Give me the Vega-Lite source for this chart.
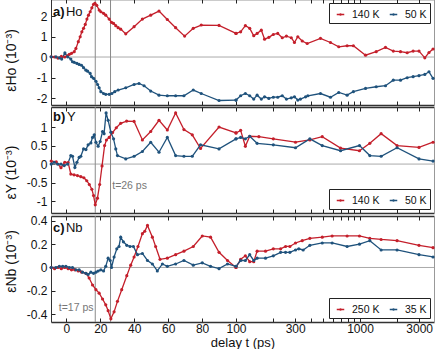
{
"$schema": "https://vega.github.io/schema/vega-lite/v6.json",
"padding": {"left": 3, "top": -2, "right": 4, "bottom": 4},
"background": "white",
"config": {
  "font": "Liberation Sans",
  "view": {"stroke": null},
  "axis": {"labelFont": "Liberation Sans", "labelFontSize": 12, "labelColor": "#111", "titleFont": "Liberation Sans", "titleFontSize": 14, "titleFontWeight": "normal", "titleColor": "#111", "tickColor": "#222", "tickWidth": 1, "tickSize": -4, "domainColor": "#333", "domainWidth": 1, "grid": false, "labelFlush": false, "labelOverlap": false},
  "axisX": {"labelPadding": 5, "domainWidth": 1.5},
  "axisY": {"labelPadding": 8},
  "legend": {"direction": "horizontal", "title": null, "symbolType": "M-0.5,0H0.5M-0.08,0A0.08,0.08,0,1,0,0.08,0A0.08,0.08,0,1,0,-0.08,0", "symbolSize": 225, "symbolStrokeWidth": 1.3, "labelFontSize": 10.5, "labelFont": "Liberation Sans", "labelColor": "#111", "strokeColor": "#222", "fillColor": "white", "padding": 3, "offset": 4, "columnPadding": 5, "labelOffset": 3, "cornerRadius": 0}
},
"datasets": {"pts": [
{"p":"a","T":"140 K","t":-9,"v":0.01},{"p":"a","T":"140 K","t":-7,"v":0.0},{"p":"a","T":"140 K","t":-5,"v":-0.05},{"p":"a","T":"140 K","t":-3,"v":0.03},{"p":"a","T":"140 K","t":-1,"v":0.0},{"p":"a","T":"140 K","t":0.5,"v":0.06},{"p":"a","T":"140 K","t":1.7,"v":0.13},{"p":"a","T":"140 K","t":3,"v":0.18},{"p":"a","T":"140 K","t":4.6,"v":0.26},{"p":"a","T":"140 K","t":5.6,"v":0.42},{"p":"a","T":"140 K","t":7,"v":0.75},{"p":"a","T":"140 K","t":8.1,"v":0.99},{"p":"a","T":"140 K","t":9.1,"v":1.23},{"p":"a","T":"140 K","t":10.1,"v":1.4},{"p":"a","T":"140 K","t":11.1,"v":1.59},{"p":"a","T":"140 K","t":12.1,"v":1.85},{"p":"a","T":"140 K","t":13,"v":2.04},{"p":"a","T":"140 K","t":14,"v":2.21},{"p":"a","T":"140 K","t":15,"v":2.4},{"p":"a","T":"140 K","t":16,"v":2.57},{"p":"a","T":"140 K","t":16.8,"v":2.62},{"p":"a","T":"140 K","t":17.9,"v":2.52},{"p":"a","T":"140 K","t":19.3,"v":2.29},{"p":"a","T":"140 K","t":20.3,"v":2.21},{"p":"a","T":"140 K","t":21.9,"v":2.13},{"p":"a","T":"140 K","t":23.2,"v":2.04},{"p":"a","T":"140 K","t":25.2,"v":1.85},{"p":"a","T":"140 K","t":26.6,"v":1.69},{"p":"a","T":"140 K","t":27.8,"v":1.64},{"p":"a","T":"140 K","t":29.1,"v":1.53},{"p":"a","T":"140 K","t":30.5,"v":1.43},{"p":"a","T":"140 K","t":32,"v":1.36},{"p":"a","T":"140 K","t":35,"v":1.13},{"p":"a","T":"140 K","t":39.9,"v":1.48},{"p":"a","T":"140 K","t":44.8,"v":1.85},{"p":"a","T":"140 K","t":49.7,"v":2.04},{"p":"a","T":"140 K","t":54.6,"v":2.24},{"p":"a","T":"140 K","t":59.5,"v":1.83},{"p":"a","T":"140 K","t":64.4,"v":1.43},{"p":"a","T":"140 K","t":69.7,"v":1.02},{"p":"a","T":"140 K","t":74.8,"v":1.4},{"p":"a","T":"140 K","t":79.5,"v":1.56},{"p":"a","T":"140 K","t":90,"v":1.54},{"p":"a","T":"140 K","t":100,"v":1.15},{"p":"a","T":"140 K","t":109,"v":1.23},{"p":"a","T":"140 K","t":119,"v":1.53},{"p":"a","T":"140 K","t":129,"v":1.4},{"p":"a","T":"140 K","t":139,"v":1.04},{"p":"a","T":"140 K","t":148,"v":1.15},{"p":"a","T":"140 K","t":160,"v":1.31},{"p":"a","T":"140 K","t":170,"v":0.87},{"p":"a","T":"140 K","t":184,"v":0.96},{"p":"a","T":"140 K","t":200,"v":1.1},{"p":"a","T":"140 K","t":217,"v":1.15},{"p":"a","T":"140 K","t":236,"v":0.94},{"p":"a","T":"140 K","t":255,"v":1.02},{"p":"a","T":"140 K","t":279,"v":0.94},{"p":"a","T":"140 K","t":296,"v":0.71},{"p":"a","T":"140 K","t":315,"v":0.99},{"p":"a","T":"140 K","t":342,"v":0.78},{"p":"a","T":"140 K","t":375,"v":0.66},{"p":"a","T":"140 K","t":480,"v":0.91},{"p":"a","T":"140 K","t":578,"v":0.71},{"p":"a","T":"140 K","t":674,"v":0.5},{"p":"a","T":"140 K","t":787,"v":0.55},{"p":"a","T":"140 K","t":884,"v":0.55},{"p":"a","T":"140 K","t":1108,"v":0.09},{"p":"a","T":"140 K","t":1350,"v":0.26},{"p":"a","T":"140 K","t":1605,"v":0.47},{"p":"a","T":"140 K","t":1855,"v":0.29},{"p":"a","T":"140 K","t":2121,"v":0.26},{"p":"a","T":"140 K","t":2400,"v":0.21},{"p":"a","T":"140 K","t":2680,"v":0.29},{"p":"a","T":"140 K","t":2990,"v":0.29},{"p":"a","T":"140 K","t":3330,"v":-0.04},{"p":"a","T":"140 K","t":3600,"v":0.22},{"p":"a","T":"140 K","t":3880,"v":0.39},
{"p":"a","T":"50 K","t":-9,"v":0.01},{"p":"a","T":"50 K","t":-6.2,"v":0.01},{"p":"a","T":"50 K","t":-4.2,"v":-0.04},{"p":"a","T":"50 K","t":-2.8,"v":-0.1},{"p":"a","T":"50 K","t":-0.9,"v":0.2},{"p":"a","T":"50 K","t":0.7,"v":0.01},{"p":"a","T":"50 K","t":2.6,"v":-0.1},{"p":"a","T":"50 K","t":3.6,"v":-0.23},{"p":"a","T":"50 K","t":4.6,"v":-0.26},{"p":"a","T":"50 K","t":6.2,"v":-0.31},{"p":"a","T":"50 K","t":7.5,"v":-0.36},{"p":"a","T":"50 K","t":8.9,"v":-0.4},{"p":"a","T":"50 K","t":10.1,"v":-0.52},{"p":"a","T":"50 K","t":11.5,"v":-0.64},{"p":"a","T":"50 K","t":12.5,"v":-0.69},{"p":"a","T":"50 K","t":14,"v":-0.8},{"p":"a","T":"50 K","t":14.8,"v":-0.96},{"p":"a","T":"50 K","t":16,"v":-1.04},{"p":"a","T":"50 K","t":17.4,"v":-1.18},{"p":"a","T":"50 K","t":18.4,"v":-1.34},{"p":"a","T":"50 K","t":19.3,"v":-1.5},{"p":"a","T":"50 K","t":20.3,"v":-1.69},{"p":"a","T":"50 K","t":21.9,"v":-1.78},{"p":"a","T":"50 K","t":23.2,"v":-1.82},{"p":"a","T":"50 K","t":25.2,"v":-1.82},{"p":"a","T":"50 K","t":26.8,"v":-1.78},{"p":"a","T":"50 K","t":28.5,"v":-1.69},{"p":"a","T":"50 K","t":30.5,"v":-1.61},{"p":"a","T":"50 K","t":35,"v":-1.5},{"p":"a","T":"50 K","t":39.9,"v":-1.34},{"p":"a","T":"50 K","t":42.8,"v":-1.29},{"p":"a","T":"50 K","t":45.8,"v":-1.4},{"p":"a","T":"50 K","t":49.7,"v":-1.66},{"p":"a","T":"50 K","t":54.6,"v":-1.86},{"p":"a","T":"50 K","t":59.5,"v":-1.89},{"p":"a","T":"50 K","t":64.4,"v":-1.89},{"p":"a","T":"50 K","t":69.3,"v":-1.89},{"p":"a","T":"50 K","t":74.8,"v":-1.61},{"p":"a","T":"50 K","t":79.5,"v":-1.78},{"p":"a","T":"50 K","t":90,"v":-2.12},{"p":"a","T":"50 K","t":100,"v":-2.1},{"p":"a","T":"50 K","t":109,"v":-1.89},{"p":"a","T":"50 K","t":119,"v":-1.78},{"p":"a","T":"50 K","t":129,"v":-1.89},{"p":"a","T":"50 K","t":139,"v":-2.05},{"p":"a","T":"50 K","t":148,"v":-1.86},{"p":"a","T":"50 K","t":160,"v":-2.05},{"p":"a","T":"50 K","t":170,"v":-1.94},{"p":"a","T":"50 K","t":184,"v":-2.02},{"p":"a","T":"50 K","t":200,"v":-1.96},{"p":"a","T":"50 K","t":217,"v":-1.96},{"p":"a","T":"50 K","t":236,"v":-1.89},{"p":"a","T":"50 K","t":255,"v":-2.05},{"p":"a","T":"50 K","t":279,"v":-1.99},{"p":"a","T":"50 K","t":296,"v":-1.94},{"p":"a","T":"50 K","t":315,"v":-2.1},{"p":"a","T":"50 K","t":331,"v":-2.05},{"p":"a","T":"50 K","t":364,"v":-1.94},{"p":"a","T":"50 K","t":380,"v":-1.89},{"p":"a","T":"50 K","t":480,"v":-1.78},{"p":"a","T":"50 K","t":578,"v":-1.96},{"p":"a","T":"50 K","t":674,"v":-1.73},{"p":"a","T":"50 K","t":787,"v":-1.86},{"p":"a","T":"50 K","t":884,"v":-1.69},{"p":"a","T":"50 K","t":1108,"v":-1.53},{"p":"a","T":"50 K","t":1350,"v":-1.45},{"p":"a","T":"50 K","t":1605,"v":-1.4},{"p":"a","T":"50 K","t":1855,"v":-1.13},{"p":"a","T":"50 K","t":2121,"v":-1.13},{"p":"a","T":"50 K","t":2400,"v":-1.01},{"p":"a","T":"50 K","t":2680,"v":-0.96},{"p":"a","T":"50 K","t":2990,"v":-0.91},{"p":"a","T":"50 K","t":3330,"v":-0.85},{"p":"a","T":"50 K","t":3600,"v":-0.72},{"p":"a","T":"50 K","t":3880,"v":-1.04},
{"p":"b","T":"140 K","t":-9,"v":0.08},{"p":"b","T":"140 K","t":-6,"v":0.06},{"p":"b","T":"140 K","t":-3.2,"v":-0.1},{"p":"b","T":"140 K","t":-1,"v":0.05},{"p":"b","T":"140 K","t":1,"v":0.04},{"p":"b","T":"140 K","t":2.6,"v":-0.27},{"p":"b","T":"140 K","t":4.5,"v":-0.29},{"p":"b","T":"140 K","t":6.5,"v":-0.31},{"p":"b","T":"140 K","t":8.5,"v":-0.34},{"p":"b","T":"140 K","t":10.3,"v":-0.37},{"p":"b","T":"140 K","t":12,"v":-0.45},{"p":"b","T":"140 K","t":13.5,"v":-0.55},{"p":"b","T":"140 K","t":15,"v":-0.68},{"p":"b","T":"140 K","t":16,"v":-0.85},{"p":"b","T":"140 K","t":17,"v":-1.1},{"p":"b","T":"140 K","t":18.3,"v":-0.92},{"p":"b","T":"140 K","t":19.6,"v":-0.55},{"p":"b","T":"140 K","t":21,"v":-0.05},{"p":"b","T":"140 K","t":22.5,"v":0.5},{"p":"b","T":"140 K","t":23.6,"v":0.65},{"p":"b","T":"140 K","t":25.2,"v":0.72},{"p":"b","T":"140 K","t":27.2,"v":0.85},{"p":"b","T":"140 K","t":29.4,"v":0.98},{"p":"b","T":"140 K","t":32,"v":1.1},{"p":"b","T":"140 K","t":35.5,"v":1.16},{"p":"b","T":"140 K","t":39.9,"v":1.15},{"p":"b","T":"140 K","t":44.8,"v":0.65},{"p":"b","T":"140 K","t":49.7,"v":0.88},{"p":"b","T":"140 K","t":54.6,"v":1.18},{"p":"b","T":"140 K","t":59.5,"v":0.92},{"p":"b","T":"140 K","t":64.4,"v":1.38},{"p":"b","T":"140 K","t":69.3,"v":0.93},{"p":"b","T":"140 K","t":74.2,"v":0.79},{"p":"b","T":"140 K","t":79.1,"v":0.42},{"p":"b","T":"140 K","t":90,"v":1.0},{"p":"b","T":"140 K","t":100,"v":0.84},{"p":"b","T":"140 K","t":109,"v":0.91},{"p":"b","T":"140 K","t":119,"v":0.48},{"p":"b","T":"140 K","t":129,"v":0.75},{"p":"b","T":"140 K","t":153,"v":0.74},{"p":"b","T":"140 K","t":200,"v":0.68},{"p":"b","T":"140 K","t":302,"v":0.59},{"p":"b","T":"140 K","t":394,"v":0.65},{"p":"b","T":"140 K","t":496,"v":0.74},{"p":"b","T":"140 K","t":697,"v":0.43},{"p":"b","T":"140 K","t":990,"v":0.36},{"p":"b","T":"140 K","t":1200,"v":0.56},{"p":"b","T":"140 K","t":1480,"v":0.82},{"p":"b","T":"140 K","t":1990,"v":0.5},{"p":"b","T":"140 K","t":2990,"v":0.45},{"p":"b","T":"140 K","t":3880,"v":0.59},
{"p":"b","T":"50 K","t":-9,"v":0.0},{"p":"b","T":"50 K","t":-7.2,"v":0.05},{"p":"b","T":"50 K","t":-5.2,"v":0.0},{"p":"b","T":"50 K","t":-3.2,"v":0.0},{"p":"b","T":"50 K","t":-1.3,"v":-0.04},{"p":"b","T":"50 K","t":0.7,"v":0.0},{"p":"b","T":"50 K","t":2.6,"v":0.23},{"p":"b","T":"50 K","t":3.6,"v":0.21},{"p":"b","T":"50 K","t":5,"v":-0.09},{"p":"b","T":"50 K","t":6.2,"v":0.05},{"p":"b","T":"50 K","t":7.5,"v":0.18},{"p":"b","T":"50 K","t":8.5,"v":0.21},{"p":"b","T":"50 K","t":10.1,"v":0.41},{"p":"b","T":"50 K","t":11.5,"v":0.39},{"p":"b","T":"50 K","t":12.8,"v":0.52},{"p":"b","T":"50 K","t":14.4,"v":0.57},{"p":"b","T":"50 K","t":15.4,"v":0.72},{"p":"b","T":"50 K","t":16.4,"v":0.79},{"p":"b","T":"50 K","t":17.4,"v":0.59},{"p":"b","T":"50 K","t":18.7,"v":0.48},{"p":"b","T":"50 K","t":19.9,"v":0.61},{"p":"b","T":"50 K","t":21.3,"v":0.88},{"p":"b","T":"50 K","t":22.2,"v":0.82},{"p":"b","T":"50 K","t":23.4,"v":1.38},{"p":"b","T":"50 K","t":24.6,"v":1.18},{"p":"b","T":"50 K","t":26.2,"v":0.86},{"p":"b","T":"50 K","t":27.8,"v":0.68},{"p":"b","T":"50 K","t":29.1,"v":0.41},{"p":"b","T":"50 K","t":30.1,"v":0.23},{"p":"b","T":"50 K","t":35,"v":0.14},{"p":"b","T":"50 K","t":39.9,"v":0.21},{"p":"b","T":"50 K","t":44.8,"v":0.34},{"p":"b","T":"50 K","t":49.7,"v":0.59},{"p":"b","T":"50 K","t":54.6,"v":0.32},{"p":"b","T":"50 K","t":59.5,"v":0.72},{"p":"b","T":"50 K","t":64.4,"v":0.23},{"p":"b","T":"50 K","t":69.3,"v":0.21},{"p":"b","T":"50 K","t":74.2,"v":0.21},{"p":"b","T":"50 K","t":79.1,"v":0.52},{"p":"b","T":"50 K","t":90,"v":0.41},{"p":"b","T":"50 K","t":100,"v":0.68},{"p":"b","T":"50 K","t":109,"v":0.72},{"p":"b","T":"50 K","t":119,"v":0.68},{"p":"b","T":"50 K","t":129,"v":0.75},{"p":"b","T":"50 K","t":148,"v":0.56},{"p":"b","T":"50 K","t":200,"v":0.52},{"p":"b","T":"50 K","t":302,"v":0.44},{"p":"b","T":"50 K","t":394,"v":0.68},{"p":"b","T":"50 K","t":496,"v":0.5},{"p":"b","T":"50 K","t":697,"v":0.36},{"p":"b","T":"50 K","t":990,"v":0.5},{"p":"b","T":"50 K","t":1200,"v":0.23},{"p":"b","T":"50 K","t":1480,"v":0.21},{"p":"b","T":"50 K","t":1990,"v":0.44},{"p":"b","T":"50 K","t":2990,"v":0.14},{"p":"b","T":"50 K","t":3880,"v":0.08},
{"p":"c","T":"250 K","t":-9,"v":0.0},{"p":"c","T":"250 K","t":-7,"v":-0.01},{"p":"c","T":"250 K","t":-5,"v":0.0},{"p":"c","T":"250 K","t":-3,"v":-0.01},{"p":"c","T":"250 K","t":-1,"v":0.0},{"p":"c","T":"250 K","t":1,"v":-0.01},{"p":"c","T":"250 K","t":3,"v":-0.02},{"p":"c","T":"250 K","t":5,"v":-0.02},{"p":"c","T":"250 K","t":7,"v":-0.03},{"p":"c","T":"250 K","t":9,"v":-0.04},{"p":"c","T":"250 K","t":11.5,"v":-0.05},{"p":"c","T":"250 K","t":13.4,"v":-0.09},{"p":"c","T":"250 K","t":15.4,"v":-0.15},{"p":"c","T":"250 K","t":17.4,"v":-0.19},{"p":"c","T":"250 K","t":19.3,"v":-0.22},{"p":"c","T":"250 K","t":21.3,"v":-0.27},{"p":"c","T":"250 K","t":23.2,"v":-0.32},{"p":"c","T":"250 K","t":24.6,"v":-0.37},{"p":"c","T":"250 K","t":26.2,"v":-0.44},{"p":"c","T":"250 K","t":28.1,"v":-0.38},{"p":"c","T":"250 K","t":30.1,"v":-0.29},{"p":"c","T":"250 K","t":32.6,"v":-0.19},{"p":"c","T":"250 K","t":35.6,"v":-0.07},{"p":"c","T":"250 K","t":37.9,"v":0.02},{"p":"c","T":"250 K","t":39.9,"v":0.09},{"p":"c","T":"250 K","t":42.2,"v":0.18},{"p":"c","T":"250 K","t":44.8,"v":0.29},{"p":"c","T":"250 K","t":46.2,"v":0.31},{"p":"c","T":"250 K","t":47.8,"v":0.36},{"p":"c","T":"250 K","t":50.7,"v":0.26},{"p":"c","T":"250 K","t":52.6,"v":0.18},{"p":"c","T":"250 K","t":55.2,"v":0.07},{"p":"c","T":"250 K","t":59.5,"v":0.08},{"p":"c","T":"250 K","t":64.4,"v":0.11},{"p":"c","T":"250 K","t":69.3,"v":0.14},{"p":"c","T":"250 K","t":74.8,"v":0.18},{"p":"c","T":"250 K","t":80.1,"v":0.27},{"p":"c","T":"250 K","t":85,"v":0.26},{"p":"c","T":"250 K","t":90,"v":0.13},{"p":"c","T":"250 K","t":95,"v":0.06},{"p":"c","T":"250 K","t":100,"v":0.0},{"p":"c","T":"250 K","t":109,"v":0.07},{"p":"c","T":"250 K","t":119,"v":0.1},{"p":"c","T":"250 K","t":129,"v":0.05},{"p":"c","T":"250 K","t":139,"v":0.05},{"p":"c","T":"250 K","t":148,"v":0.14},{"p":"c","T":"250 K","t":173,"v":0.14},{"p":"c","T":"250 K","t":200,"v":0.16},{"p":"c","T":"250 K","t":229,"v":0.16},{"p":"c","T":"250 K","t":251,"v":0.18},{"p":"c","T":"250 K","t":272,"v":0.18},{"p":"c","T":"250 K","t":302,"v":0.21},{"p":"c","T":"250 K","t":342,"v":0.23},{"p":"c","T":"250 K","t":394,"v":0.25},{"p":"c","T":"250 K","t":496,"v":0.26},{"p":"c","T":"250 K","t":596,"v":0.27},{"p":"c","T":"250 K","t":787,"v":0.27},{"p":"c","T":"250 K","t":990,"v":0.27},{"p":"c","T":"250 K","t":1200,"v":0.25},{"p":"c","T":"250 K","t":1480,"v":0.24},{"p":"c","T":"250 K","t":1990,"v":0.23},{"p":"c","T":"250 K","t":2990,"v":0.19},{"p":"c","T":"250 K","t":3880,"v":0.17},
{"p":"c","T":"35 K","t":-9,"v":0.0},{"p":"c","T":"35 K","t":-6.2,"v":0.0},{"p":"c","T":"35 K","t":-4.2,"v":0.01},{"p":"c","T":"35 K","t":-2.2,"v":0.01},{"p":"c","T":"35 K","t":-0.3,"v":0.01},{"p":"c","T":"35 K","t":1.7,"v":0.0},{"p":"c","T":"35 K","t":3.6,"v":0.0},{"p":"c","T":"35 K","t":5.6,"v":-0.02},{"p":"c","T":"35 K","t":7.5,"v":-0.02},{"p":"c","T":"35 K","t":9.5,"v":-0.04},{"p":"c","T":"35 K","t":11.5,"v":-0.05},{"p":"c","T":"35 K","t":12.8,"v":-0.06},{"p":"c","T":"35 K","t":14.4,"v":-0.04},{"p":"c","T":"35 K","t":16,"v":-0.05},{"p":"c","T":"35 K","t":17.4,"v":-0.04},{"p":"c","T":"35 K","t":18.7,"v":-0.03},{"p":"c","T":"35 K","t":20.3,"v":-0.02},{"p":"c","T":"35 K","t":21.9,"v":-0.03},{"p":"c","T":"35 K","t":23.2,"v":0.01},{"p":"c","T":"35 K","t":24.6,"v":0.08},{"p":"c","T":"35 K","t":25.8,"v":0.06},{"p":"c","T":"35 K","t":26.6,"v":0.0},{"p":"c","T":"35 K","t":28.1,"v":0.09},{"p":"c","T":"35 K","t":29.7,"v":0.16},{"p":"c","T":"35 K","t":31,"v":0.18},{"p":"c","T":"35 K","t":32,"v":0.26},{"p":"c","T":"35 K","t":33.6,"v":0.22},{"p":"c","T":"35 K","t":35.6,"v":0.19},{"p":"c","T":"35 K","t":37.5,"v":0.18},{"p":"c","T":"35 K","t":39.5,"v":0.18},{"p":"c","T":"35 K","t":41.9,"v":0.11},{"p":"c","T":"35 K","t":44.8,"v":0.12},{"p":"c","T":"35 K","t":47.8,"v":0.06},{"p":"c","T":"35 K","t":50.7,"v":0.03},{"p":"c","T":"35 K","t":53.6,"v":-0.03},{"p":"c","T":"35 K","t":56.6,"v":0.03},{"p":"c","T":"35 K","t":59.5,"v":0.01},{"p":"c","T":"35 K","t":64.4,"v":0.03},{"p":"c","T":"35 K","t":69.3,"v":0.06},{"p":"c","T":"35 K","t":74.8,"v":0.02},{"p":"c","T":"35 K","t":80.1,"v":0.04},{"p":"c","T":"35 K","t":85,"v":0.01},{"p":"c","T":"35 K","t":90,"v":-0.01},{"p":"c","T":"35 K","t":95,"v":0.03},{"p":"c","T":"35 K","t":100,"v":0.01},{"p":"c","T":"35 K","t":109,"v":0.06},{"p":"c","T":"35 K","t":119,"v":0.06},{"p":"c","T":"35 K","t":129,"v":0.11},{"p":"c","T":"35 K","t":139,"v":0.06},{"p":"c","T":"35 K","t":148,"v":0.08},{"p":"c","T":"35 K","t":173,"v":0.08},{"p":"c","T":"35 K","t":200,"v":0.1},{"p":"c","T":"35 K","t":229,"v":0.13},{"p":"c","T":"35 K","t":251,"v":0.13},{"p":"c","T":"35 K","t":272,"v":0.13},{"p":"c","T":"35 K","t":302,"v":0.15},{"p":"c","T":"35 K","t":321,"v":0.16},{"p":"c","T":"35 K","t":348,"v":0.15},{"p":"c","T":"35 K","t":394,"v":0.19},{"p":"c","T":"35 K","t":496,"v":0.21},{"p":"c","T":"35 K","t":596,"v":0.21},{"p":"c","T":"35 K","t":787,"v":0.18},{"p":"c","T":"35 K","t":990,"v":0.2},{"p":"c","T":"35 K","t":1200,"v":0.23},{"p":"c","T":"35 K","t":1480,"v":0.15},{"p":"c","T":"35 K","t":1990,"v":0.15},{"p":"c","T":"35 K","t":2990,"v":0.11},{"p":"c","T":"35 K","t":3880,"v":0.09}
]},
"spacing": 0,
"resolve": {"scale": {"x": "independent", "y": "independent", "color": "independent"}, "axis": {"x": "independent", "y": "independent"}, "legend": {"color": "independent"}},
"vconcat": [
{
 "spacing": 0, "bounds": "flush",
 "resolve": {"scale": {"x": "independent", "y": "independent", "color": "independent"}, "axis": {"x": "independent", "y": "independent"}, "legend": {"color": "independent"}},
 "hconcat": [
  {"width": 185, "height": 106,
   "layer": [
    {"data": {"values": [{"v": 0}]}, "mark": {"type": "rule", "color": "#aaaaaa", "strokeWidth": 1}, "encoding": {"y": {"field": "v", "type": "quantitative", "scale": {"domain": [-2.34, 2.83], "nice": false, "zero": false}, "axis": null}}},
    {"data": {"values": [{"t": 17}, {"t": 26}]}, "mark": {"type": "rule", "color": "#8a8a8a", "strokeWidth": 1}, "encoding": {"x": {"field": "t", "type": "quantitative", "scale": {"domain": [-9.1, 100], "nice": false, "zero": false}, "axis": null}}},
    {"data": {"name": "pts"}, "transform": [{"filter": "datum.p == 'a' && datum.t <= 100"}], "mark": {"type": "line", "strokeWidth": 1.3},
     "encoding": {"x": {"field": "t", "type": "quantitative", "scale": {"domain": [-9.1, 100], "nice": false, "zero": false}, "axis": {"orient": "bottom", "values": [0, 20, 40, 60, 80, 100], "labels": false, "title": null}},
      "y": {"field": "v", "type": "quantitative", "scale": {"domain": [-2.34, 2.83], "nice": false, "zero": false}, "axis": {"orient": "left", "values": [-2, -1, 0, 1, 2], "labelExpr": "toString(datum.value)", "title": "εHo (10⁻³)", "titleX": -40, "titleY": 61, "titleAlign": "center", "titleBaseline": "middle", "titleAngle": -90}},
      "color": {"field": "T", "type": "nominal", "scale": {"domain": ["140 K", "50 K"], "range": ["#c41f2b", "#1f527c"]}, "legend": null}}},
    {"data": {"name": "pts"}, "transform": [{"filter": "datum.p == 'a' && datum.t <= 100"}], "mark": {"type": "point", "filled": true, "size": 10, "opacity": 1},
     "encoding": {"x": {"field": "t", "type": "quantitative", "scale": {"domain": [-9.1, 100], "nice": false, "zero": false}, "axis": {"orient": "top", "values": [0, 20, 40, 60, 80, 100], "labels": false, "title": null}},
      "y": {"field": "v", "type": "quantitative", "scale": {"domain": [-2.34, 2.83], "nice": false, "zero": false}, "axis": null},
      "color": {"field": "T", "type": "nominal", "scale": {"domain": ["140 K", "50 K"], "range": ["#c41f2b", "#1f527c"]}, "legend": null}}},
    {"data": {"values": [{"s": "a)"}]}, "mark": {"type": "text", "fontWeight": "bold", "fontSize": 13, "align": "left", "baseline": "middle", "color": "#111"}, "encoding": {"text": {"field": "s"}, "x": {"datum": -7.9, "axis": null}, "y": {"datum": 2.21, "axis": null}}},
    {"data": {"values": [{"s": "Ho"}]}, "mark": {"type": "text", "fontSize": 13, "align": "left", "baseline": "middle", "color": "#111"}, "encoding": {"text": {"field": "s"}, "x": {"datum": -0.3, "axis": null}, "y": {"datum": 2.21, "axis": null}}}
   ],
   "resolve": {"axis": {"x": "independent", "y": "independent"}}
  },
  {"width": 198, "height": 106,
   "layer": [
    {"data": {"values": [{"v": 0}]}, "mark": {"type": "rule", "color": "#aaaaaa", "strokeWidth": 1}, "encoding": {"y": {"field": "v", "type": "quantitative", "scale": {"domain": [-2.34, 2.83], "nice": false, "zero": false}, "axis": null}}},
    {"data": {"name": "pts"}, "transform": [{"filter": "datum.p == 'a' && datum.t >= 100"}], "mark": {"type": "line", "strokeWidth": 1.3},
     "encoding": {"x": {"field": "t", "type": "quantitative", "scale": {"type": "log", "domain": [100, 3950], "nice": false}, "axis": {"orient": "bottom", "values": [200, 300, 400, 500, 600, 700, 800, 900, 1000, 2000, 3000], "labels": false, "title": null}},
      "y": {"field": "v", "type": "quantitative", "scale": {"domain": [-2.34, 2.83], "nice": false, "zero": false}, "axis": {"orient": "right", "labels": false, "ticks": false, "title": null, "domainColor": "#999999"}},
      "color": {"field": "T", "type": "nominal", "scale": {"domain": ["140 K", "50 K"], "range": ["#c41f2b", "#1f527c"]}, "legend": {"orient": "top-right"}}}},
    {"data": {"name": "pts"}, "transform": [{"filter": "datum.p == 'a' && datum.t >= 100"}], "mark": {"type": "point", "filled": true, "size": 10, "opacity": 1},
     "encoding": {"x": {"field": "t", "type": "quantitative", "scale": {"type": "log", "domain": [100, 3950], "nice": false}, "axis": {"orient": "top", "values": [200, 300, 400, 500, 600, 700, 800, 900, 1000, 2000, 3000], "labels": false, "title": null}},
      "y": {"field": "v", "type": "quantitative", "scale": {"domain": [-2.34, 2.83], "nice": false, "zero": false}, "axis": null},
      "color": {"field": "T", "type": "nominal", "scale": {"domain": ["140 K", "50 K"], "range": ["#c41f2b", "#1f527c"]}, "legend": {"orient": "top-right"}}}}
   ],
   "resolve": {"axis": {"x": "independent", "y": "independent"}}
  }
 ]
},
{
 "spacing": 0, "bounds": "flush",
 "resolve": {"scale": {"x": "independent", "y": "independent", "color": "independent"}, "axis": {"x": "independent", "y": "independent"}, "legend": {"color": "independent"}},
 "hconcat": [
  {"width": 185, "height": 106,
   "layer": [
    {"data": {"values": [{"v": 0}]}, "mark": {"type": "rule", "color": "#aaaaaa", "strokeWidth": 1}, "encoding": {"y": {"field": "v", "type": "quantitative", "scale": {"domain": [-1.32, 1.54], "nice": false, "zero": false}, "axis": null}}},
    {"data": {"values": [{"t": 17}, {"t": 26}]}, "mark": {"type": "rule", "color": "#8a8a8a", "strokeWidth": 1}, "encoding": {"x": {"field": "t", "type": "quantitative", "scale": {"domain": [-9.1, 100], "nice": false, "zero": false}, "axis": null}}},
    {"data": {"name": "pts"}, "transform": [{"filter": "datum.p == 'b' && datum.t <= 100"}], "mark": {"type": "line", "strokeWidth": 1.3},
     "encoding": {"x": {"field": "t", "type": "quantitative", "scale": {"domain": [-9.1, 100], "nice": false, "zero": false}, "axis": {"orient": "bottom", "values": [0, 20, 40, 60, 80, 100], "labels": false, "title": null}},
      "y": {"field": "v", "type": "quantitative", "scale": {"domain": [-1.32, 1.54], "nice": false, "zero": false}, "axis": {"orient": "left", "values": [-1, -0.5, 0, 0.5, 1], "labelExpr": "toString(datum.value)", "title": "εY (10⁻³)", "titleX": -40, "titleY": 65, "titleAlign": "center", "titleBaseline": "middle", "titleAngle": -90}},
      "color": {"field": "T", "type": "nominal", "scale": {"domain": ["140 K", "50 K"], "range": ["#c41f2b", "#1f527c"]}, "legend": null}}},
    {"data": {"name": "pts"}, "transform": [{"filter": "datum.p == 'b' && datum.t <= 100"}], "mark": {"type": "point", "filled": true, "size": 10, "opacity": 1},
     "encoding": {"x": {"field": "t", "type": "quantitative", "scale": {"domain": [-9.1, 100], "nice": false, "zero": false}, "axis": {"orient": "top", "values": [0, 20, 40, 60, 80, 100], "labels": false, "title": null}},
      "y": {"field": "v", "type": "quantitative", "scale": {"domain": [-1.32, 1.54], "nice": false, "zero": false}, "axis": null},
      "color": {"field": "T", "type": "nominal", "scale": {"domain": ["140 K", "50 K"], "range": ["#c41f2b", "#1f527c"]}, "legend": null}}},
    {"data": {"values": [{"s": "b)"}]}, "mark": {"type": "text", "fontWeight": "bold", "fontSize": 13, "align": "left", "baseline": "middle", "color": "#111"}, "encoding": {"text": {"field": "s"}, "x": {"datum": -7.9, "axis": null}, "y": {"datum": 1.26, "axis": null}}},
    {"data": {"values": [{"s": "Y"}]}, "mark": {"type": "text", "fontSize": 13, "align": "left", "baseline": "middle", "color": "#111"}, "encoding": {"text": {"field": "s"}, "x": {"datum": 0.3, "axis": null}, "y": {"datum": 1.26, "axis": null}}},
    {"data": {"values": [{"s": "t=26 ps"}]}, "mark": {"type": "text", "fontSize": 10.5, "align": "left", "baseline": "middle", "color": "#777777"}, "encoding": {"text": {"field": "s"}, "x": {"datum": 27, "axis": null}, "y": {"datum": -0.6, "axis": null}}}
   ],
   "resolve": {"axis": {"x": "independent", "y": "independent"}}
  },
  {"width": 198, "height": 106,
   "layer": [
    {"data": {"values": [{"v": 0}]}, "mark": {"type": "rule", "color": "#aaaaaa", "strokeWidth": 1}, "encoding": {"y": {"field": "v", "type": "quantitative", "scale": {"domain": [-1.32, 1.54], "nice": false, "zero": false}, "axis": null}}},
    {"data": {"name": "pts"}, "transform": [{"filter": "datum.p == 'b' && datum.t >= 100"}], "mark": {"type": "line", "strokeWidth": 1.3},
     "encoding": {"x": {"field": "t", "type": "quantitative", "scale": {"type": "log", "domain": [100, 3950], "nice": false}, "axis": {"orient": "bottom", "values": [200, 300, 400, 500, 600, 700, 800, 900, 1000, 2000, 3000], "labels": false, "title": null}},
      "y": {"field": "v", "type": "quantitative", "scale": {"domain": [-1.32, 1.54], "nice": false, "zero": false}, "axis": {"orient": "right", "labels": false, "ticks": false, "title": null, "domainColor": "#999999"}},
      "color": {"field": "T", "type": "nominal", "scale": {"domain": ["140 K", "50 K"], "range": ["#c41f2b", "#1f527c"]}, "legend": {"orient": "bottom-right"}}}},
    {"data": {"name": "pts"}, "transform": [{"filter": "datum.p == 'b' && datum.t >= 100"}], "mark": {"type": "point", "filled": true, "size": 10, "opacity": 1},
     "encoding": {"x": {"field": "t", "type": "quantitative", "scale": {"type": "log", "domain": [100, 3950], "nice": false}, "axis": {"orient": "top", "values": [200, 300, 400, 500, 600, 700, 800, 900, 1000, 2000, 3000], "labels": false, "title": null}},
      "y": {"field": "v", "type": "quantitative", "scale": {"domain": [-1.32, 1.54], "nice": false, "zero": false}, "axis": null},
      "color": {"field": "T", "type": "nominal", "scale": {"domain": ["140 K", "50 K"], "range": ["#c41f2b", "#1f527c"]}, "legend": {"orient": "bottom-right"}}}}
   ],
   "resolve": {"axis": {"x": "independent", "y": "independent"}}
  }
 ]
},
{
 "spacing": 0, "bounds": "flush",
 "resolve": {"scale": {"x": "independent", "y": "independent", "color": "independent"}, "axis": {"x": "independent", "y": "independent"}, "legend": {"color": "independent"}},
 "hconcat": [
  {"width": 185, "height": 106,
   "layer": [
    {"data": {"values": [{"v": 0}]}, "mark": {"type": "rule", "color": "#aaaaaa", "strokeWidth": 1}, "encoding": {"y": {"field": "v", "type": "quantitative", "scale": {"domain": [-0.467, 0.441], "nice": false, "zero": false}, "axis": null}}},
    {"data": {"values": [{"t": 17}, {"t": 26}]}, "mark": {"type": "rule", "color": "#8a8a8a", "strokeWidth": 1}, "encoding": {"x": {"field": "t", "type": "quantitative", "scale": {"domain": [-9.1, 100], "nice": false, "zero": false}, "axis": null}}},
    {"data": {"name": "pts"}, "transform": [{"filter": "datum.p == 'c' && datum.t <= 100"}], "mark": {"type": "line", "strokeWidth": 1.3},
     "encoding": {"x": {"field": "t", "type": "quantitative", "scale": {"domain": [-9.1, 100], "nice": false, "zero": false}, "axis": {"orient": "bottom", "values": [0, 20, 40, 60, 80, 100], "labelExpr": "toString(datum.value)", "title": "delay t (ps)", "titleFontSize": 13, "titleX": 191.5, "titleY": 20, "titleAlign": "center", "titleBaseline": "middle"}},
      "y": {"field": "v", "type": "quantitative", "scale": {"domain": [-0.467, 0.441], "nice": false, "zero": false}, "axis": {"orient": "left", "values": [-0.4, -0.2, 0, 0.2, 0.4], "labelExpr": "toString(datum.value)", "title": "εNb (10⁻³)", "titleX": -40, "titleY": 45, "titleAlign": "center", "titleBaseline": "middle", "titleAngle": -90}},
      "color": {"field": "T", "type": "nominal", "scale": {"domain": ["250 K", "35 K"], "range": ["#c41f2b", "#1f527c"]}, "legend": null}}},
    {"data": {"name": "pts"}, "transform": [{"filter": "datum.p == 'c' && datum.t <= 100"}], "mark": {"type": "point", "filled": true, "size": 10, "opacity": 1},
     "encoding": {"x": {"field": "t", "type": "quantitative", "scale": {"domain": [-9.1, 100], "nice": false, "zero": false}, "axis": {"orient": "top", "values": [0, 20, 40, 60, 80, 100], "labels": false, "title": null}},
      "y": {"field": "v", "type": "quantitative", "scale": {"domain": [-0.467, 0.441], "nice": false, "zero": false}, "axis": null},
      "color": {"field": "T", "type": "nominal", "scale": {"domain": ["250 K", "35 K"], "range": ["#c41f2b", "#1f527c"]}, "legend": null}}},
    {"data": {"values": [{"s": "c)"}]}, "mark": {"type": "text", "fontWeight": "bold", "fontSize": 13, "align": "left", "baseline": "middle", "color": "#111"}, "encoding": {"text": {"field": "s"}, "x": {"datum": -7.9, "axis": null}, "y": {"datum": 0.334, "axis": null}}},
    {"data": {"values": [{"s": "Nb"}]}, "mark": {"type": "text", "fontSize": 13, "align": "left", "baseline": "middle", "color": "#111"}, "encoding": {"text": {"field": "s"}, "x": {"datum": -0.3, "axis": null}, "y": {"datum": 0.334, "axis": null}}},
    {"data": {"values": [{"s": "t=17 ps"}]}, "mark": {"type": "text", "fontSize": 10.5, "align": "right", "baseline": "middle", "color": "#777777"}, "encoding": {"text": {"field": "s"}, "x": {"datum": 16, "axis": null}, "y": {"datum": -0.343, "axis": null}}}
   ],
   "resolve": {"axis": {"x": "independent", "y": "independent"}}
  },
  {"width": 198, "height": 106,
   "layer": [
    {"data": {"values": [{"v": 0}]}, "mark": {"type": "rule", "color": "#aaaaaa", "strokeWidth": 1}, "encoding": {"y": {"field": "v", "type": "quantitative", "scale": {"domain": [-0.467, 0.441], "nice": false, "zero": false}, "axis": null}}},
    {"data": {"name": "pts"}, "transform": [{"filter": "datum.p == 'c' && datum.t >= 100"}], "mark": {"type": "line", "strokeWidth": 1.3},
     "encoding": {"x": {"field": "t", "type": "quantitative", "scale": {"type": "log", "domain": [100, 3950], "nice": false}, "axis": {"orient": "bottom", "values": [200, 300, 400, 500, 600, 700, 800, 900, 1000, 2000, 3000], "labelExpr": "datum.value == 300 || datum.value == 1000 || datum.value == 3000 ? toString(datum.value) : ''", "title": null}},
      "y": {"field": "v", "type": "quantitative", "scale": {"domain": [-0.467, 0.441], "nice": false, "zero": false}, "axis": {"orient": "right", "labels": false, "ticks": false, "title": null, "domainColor": "#999999"}},
      "color": {"field": "T", "type": "nominal", "scale": {"domain": ["250 K", "35 K"], "range": ["#c41f2b", "#1f527c"]}, "legend": {"orient": "bottom-right"}}}},
    {"data": {"name": "pts"}, "transform": [{"filter": "datum.p == 'c' && datum.t >= 100"}], "mark": {"type": "point", "filled": true, "size": 10, "opacity": 1},
     "encoding": {"x": {"field": "t", "type": "quantitative", "scale": {"type": "log", "domain": [100, 3950], "nice": false}, "axis": {"orient": "top", "values": [200, 300, 400, 500, 600, 700, 800, 900, 1000, 2000, 3000], "labels": false, "title": null}},
      "y": {"field": "v", "type": "quantitative", "scale": {"domain": [-0.467, 0.441], "nice": false, "zero": false}, "axis": null},
      "color": {"field": "T", "type": "nominal", "scale": {"domain": ["250 K", "35 K"], "range": ["#c41f2b", "#1f527c"]}, "legend": {"orient": "bottom-right"}}}}
   ],
   "resolve": {"axis": {"x": "independent", "y": "independent"}}
  }
 ]
}
]
}
